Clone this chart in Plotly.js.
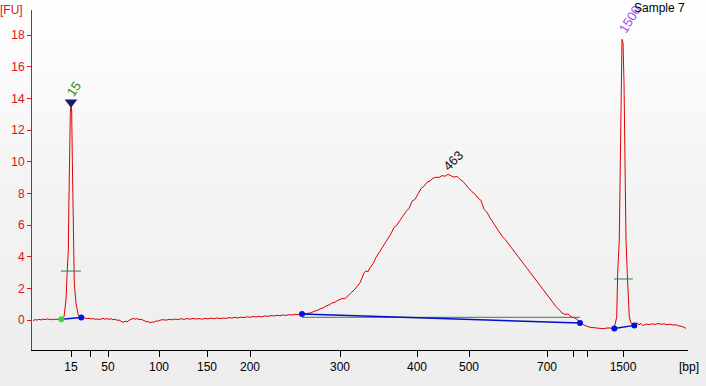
<!DOCTYPE html>
<html>
<head>
<meta charset="utf-8">
<script src="https://cdn.plot.ly/plotly-3.0.1.min.js"></script>
<style>
  html, body { margin:0; padding:0; }
  body { width:706px; height:386px; background: linear-gradient(to bottom, #ffffff 0%, #f4f4f4 45%, #ededed 100%); }
  #chart { width:706px; height:386px; }
</style>
</head>
<body>
<div id="chart"></div>
<script>
// Migration time (arbitrary seconds) of each sample of the trace
const traceTime = [
  40.125,40.375,40.625,40.875,41.125,41.375,41.625,41.875,42.125,42.375,42.625,42.875,43.125,43.375,43.625,43.75,
  44,44.125,44.25,44.375,44.44,44.54,44.6,44.66,44.79,44.875,44.96,45.04,45.125,45.16,45.29,45.5,45.79,46.16,
  46.375,46.625,46.875,47.125,47.375,47.625,47.875,48.125,48.375,48.625,48.875,49.125,49.375,49.625,49.875,50.125,
  50.375,50.625,50.875,51.125,51.375,51.625,51.875,52.125,52.375,52.625,52.875,53.125,53.375,53.625,53.875,54.125,
  54.375,54.625,54.75,55,55.25,55.5,55.75,56,56.375,56.75,57.125,57.5,57.875,58.25,58.625,59,59.375,59.75,60.125,
  60.5,60.875,61.25,61.625,62,62.375,62.75,63.125,63.5,63.875,64.25,64.625,65,65.375,65.75,66.125,66.5,66.875,
  67.25,67.625,68,68.375,68.75,69.125,69.5,69.875,70.25,70.625,71,71.375,71.75,72.125,72.5,72.875,73.25,73.75,
  74.125,74.5,74.875,75.25,75.625,76,76.375,76.75,77.125,77.5,77.875,78.25,78.625,78.875,79.125,79.5,79.875,
  80.25,80.625,81,81.25,81.5,81.75,82,82.25,82.625,83,83.375,83.75,84.125,84.5,84.875,85.25,85.625,86,86.375,
  86.75,87.125,87.5,87.875,88.25,88.625,89,89.375,89.75,90.125,90.5,90.875,91.25,91.625,92,92.375,92.75,93.125,
  93.5,93.875,94.25,94.625,95,95.375,95.75,96.125,96.5,96.875,97.25,97.625,98,98.375,98.75,99.125,99.5,99.875,
  100.25,100.625,101,101.375,101.75,102.125,102.5,102.875,103.25,103.625,104,104.375,104.75,105.125,105.5,
  105.875,106.25,106.625,107,107.375,107.75,108.125,108.5,109.125,109.75,110.5,111.375,112,112.625,112.875,
  113.09,113.21,113.41,113.54,113.625,113.75,113.875,114,114.125,114.25,114.41,114.66,114.875,115.25,115.625,
  115.875,116.125,116.375,116.75,117.125,117.5,117.875,118.25,118.625,119,119.375,119.75,120.125,120.5,120.875,
  121.25,121.5,121.75];
// Fluorescence [FU]
const traceFU = [
  -0.04,0.03,-0.01,0.05,0.0,0.06,0.02,0.07,0.03,0.06,0.01,0.05,0.03,0.07,0.04,0.07,
  0.2,0.6,1.26,2.8,3.6,4.4,7.0,10.1,13.1,13.6,13.2,10.1,6.5,4.4,2.3,1.05,0.3,0.15,
  0.1,0.14,0.08,0.11,0.06,0.1,0.04,0.07,0.03,0.06,0.1,0.05,0.09,0.04,0.08,0.02,
  0.05,-0.02,0.0,-0.08,-0.15,-0.08,-0.12,-0.02,0.02,0.1,0.05,0.09,0.02,0.05,-0.01,-0.05,
  -0.12,-0.1,-0.19,-0.12,-0.14,-0.06,-0.08,-0.01,0.02,-0.01,0.04,0.01,0.06,0.03,0.08,0.04,0.09,0.05,0.1,
  0.06,0.09,0.05,0.1,0.07,0.12,0.08,0.13,0.09,0.12,0.1,0.15,0.12,0.17,0.13,0.18,0.15,0.2,
  0.17,0.22,0.19,0.23,0.2,0.26,0.23,0.28,0.25,0.3,0.27,0.32,0.29,0.34,0.31,0.36,0.34,0.38,
  0.4,0.46,0.45,0.55,0.6,0.7,0.76,0.88,0.95,1.08,1.12,1.25,1.3,1.37,1.34,1.55,1.72,
  1.88,2.1,2.35,2.65,2.98,3.1,3.05,3.3,3.55,3.95,4.25,4.62,4.85,5.2,5.45,5.85,6.0,6.3,6.6,
  6.85,7.05,7.5,7.62,8.0,8.3,8.45,8.7,8.78,8.95,9.02,9.0,9.12,9.08,9.2,9.12,9.02,9.08,
  8.88,8.75,8.5,8.3,8.1,7.95,7.7,7.55,7.0,6.8,6.45,6.15,5.85,5.6,5.3,5.1,4.85,4.6,
  4.35,4.1,3.85,3.6,3.35,3.1,2.85,2.6,2.3,2.05,1.8,1.55,1.3,1.1,0.85,
  0.65,0.45,0.35,0.38,0.2,0.15,0.05,-0.17,-0.35,-0.46,-0.5,-0.55,-0.5,-0.53,-0.3,
  0.2,2.95,5.05,10,15,17.73,17.5,15,10,5.05,2.95,0.2,-0.2,-0.34,-0.18,
  -0.3,-0.22,-0.36,-0.25,-0.3,-0.24,-0.28,-0.22,-0.27,-0.24,-0.3,-0.26,-0.32,-0.3,-0.38,
  -0.4,-0.48,-0.53];

// Axis ticks (bp ladder)
const bpTickTime = [44.875,47.25,49.5,55.875,61.875,67.25,78.5,88.125,94.625,104.375,107.625,109.375,113.875];
const bpTickText = ['15','','50','100','150','200','300','400','500','700','','','1500'];
const fuTicks = [0,2,4,6,8,10,12,14,16,18];

// Peak/region markers
const baseStartTime = [43.66];
const baseStartFU = [0.04];
const baseEndTime = [46.16, 73.75, 108.5, 112.79, 115.29];
const baseEndFU = [0.15, 0.38, -0.19, -0.53, -0.34];
const baselineTime = [43.66, 46.16, null, 73.75, 108.5, null, 112.79, 115.29];
const baselineFU = [0.04, 0.15, null, 0.38, -0.19, null, -0.53, -0.34];
const widthTime = [43.6, 46.1, null, 73.75, 108.5, null, 112.75, 115.1];
const widthFU = [3.09, 3.09, null, 0.17, 0.17, null, 2.59, 2.59];
const peakLabels = ['15', '463', '1500'];
const peakLabelTime = [45.2, 92.65, 114.75];
const peakLabelFU = [14.55, 10.1, 18.95];
const markerPeakTime = [44.875];
const markerPeakFU = [13.75];

const font = "Liberation Sans, Arial, sans-serif";

const data = [
  {x: traceTime, y: traceFU, mode: 'lines', line: {color: '#e00000', width: 1}, hoverinfo: 'skip'},
  {x: widthTime, y: widthFU, mode: 'lines', line: {color: '#2f7f4f', width: 1}, hoverinfo: 'skip'},
  {x: baselineTime, y: baselineFU, mode: 'lines', line: {color: '#0010c8', width: 1.5}, hoverinfo: 'skip'},
  {x: baseEndTime, y: baseEndFU, mode: 'markers', marker: {color: '#0010e0', size: 6, symbol: 'circle'}, hoverinfo: 'skip'},
  {x: baseStartTime, y: baseStartFU, mode: 'markers', marker: {color: '#33dd33', size: 6, symbol: 'circle'}, hoverinfo: 'skip'},
  {x: markerPeakTime, y: markerPeakFU, mode: 'markers', marker: {color: '#1a1a66', size: 11, symbol: 'triangle-down'}, hoverinfo: 'skip'}
];

const labelColors = ['#228a22', '#111111', '#9a4ff0'];
const labelAngles = [-55, -45, -58];
const annotations = peakLabels.map((t, i) => ({
  text: t, x: peakLabelTime[i], y: peakLabelFU[i], xref: 'x', yref: 'y',
  showarrow: false, textangle: labelAngles[i],
  font: {family: font, size: 13, color: labelColors[i]}
}));
annotations.push(
  {text: 'Sample 7', xref: 'paper', yref: 'paper', x: 0.957, y: 1.006, xanchor: 'center', yanchor: 'middle', showarrow: false, font: {family: font, size: 12, color: '#000'}},
  {text: '[FU]', xref: 'paper', yref: 'paper', x: -0.0305, y: 1.0, xanchor: 'center', yanchor: 'middle', showarrow: false, font: {family: font, size: 12, color: '#dd1111'}},
  {text: '[bp]', xref: 'paper', yref: 'paper', x: 1.001, y: -0.05, xanchor: 'center', yanchor: 'middle', showarrow: false, font: {family: font, size: 12, color: '#000'}}
);

const layout = {
  width: 706, height: 386,
  margin: {l: 32, r: 18, t: 10, b: 36, pad: 0},
  paper_bgcolor: 'rgba(0,0,0,0)',
  plot_bgcolor: 'rgba(0,0,0,0)',
  showlegend: false,
  font: {family: font, size: 12, color: '#000'},
  xaxis: {
    range: [40, 122], showgrid: false, zeroline: false,
    showline: true, linecolor: '#000', linewidth: 1,
    ticks: 'outside', ticklen: 6, tickcolor: '#000', tickwidth: 1,
    tickmode: 'array', tickvals: bpTickTime, ticktext: bpTickText,
    tickfont: {family: font, size: 12, color: '#000'}, fixedrange: true
  },
  yaxis: {
    range: [-1.895, 19.58], showgrid: false, zeroline: false,
    showline: true, linecolor: '#dd1111', linewidth: 1,
    ticks: 'outside', ticklen: 4, tickcolor: '#dd1111', tickwidth: 1,
    tickmode: 'array', tickvals: fuTicks,
    tickfont: {family: font, size: 12, color: '#dd1111'}, fixedrange: true
  },
  annotations: annotations
};

Plotly.newPlot('chart', data, layout, {displayModeBar: false, staticPlot: true});
</script>
</body>
</html>
